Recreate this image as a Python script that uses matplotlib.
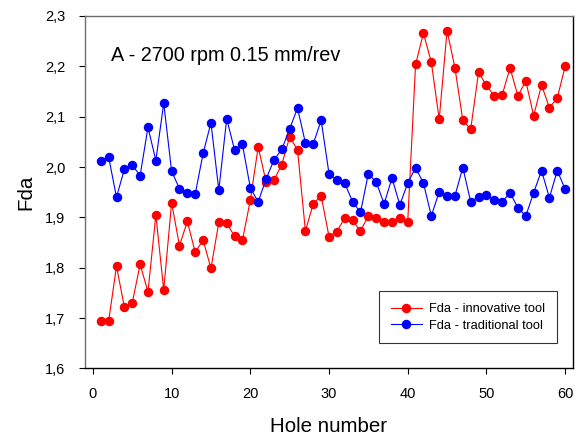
import matplotlib.pyplot as plt
import numpy as np

plt.rcParams['font.family'] = ['Liberation Sans', 'DejaVu Sans']

# hole index and measured Fda for both tools
holes = np.arange(1, 61)
fda_innovative = [
    1.694, 1.694, 1.803, 1.722, 1.730, 1.807, 1.752, 1.905, 1.756, 1.929,
    1.844, 1.892, 1.831, 1.855, 1.799, 1.890, 1.888, 1.863, 1.855, 1.934,
    2.040, 1.971, 1.974, 2.005, 2.060, 2.034, 1.873, 1.927, 1.943, 1.862,
    1.872, 1.899, 1.894, 1.873, 1.903, 1.899, 1.891, 1.891, 1.899, 1.891,
    2.204, 2.266, 2.208, 2.095, 2.271, 2.197, 2.093, 2.075, 2.188, 2.162,
    2.141, 2.143, 2.197, 2.141, 2.171, 2.102, 2.163, 2.118, 2.137, 2.200,
]
fda_traditional = [
    2.013, 2.020, 1.940, 1.996, 2.004, 1.983, 2.079, 2.013, 2.127, 1.992,
    1.957, 1.949, 1.946, 2.027, 2.088, 1.954, 2.096, 2.034, 2.045, 1.959,
    1.931, 1.976, 2.014, 2.035, 2.076, 2.117, 2.048, 2.046, 2.093, 1.987,
    1.974, 1.968, 1.931, 1.910, 1.987, 1.970, 1.927, 1.978, 1.925, 1.968,
    1.999, 1.968, 1.903, 1.951, 1.943, 1.943, 1.999, 1.931, 1.941, 1.945,
    1.935, 1.931, 1.949, 1.919, 1.903, 1.949, 1.993, 1.939, 1.993, 1.956,
]

y_ticks = [1.6, 1.7, 1.8, 1.9, 2.0, 2.1, 2.2, 2.3]
y_tick_labels = ['1,6', '1,7', '1,8', '1,9', '2,0', '2,1', '2,2', '2,3']
x_ticks = [0, 10, 20, 30, 40, 50, 60]

fig = plt.figure(figsize=(5.76, 4.38), dpi=100)
ax = fig.add_axes([0.1476, 0.1587, 0.8472, 0.8048])

ax.plot(holes, fda_innovative, color='#ff0000', marker='o', markersize=5.8,
        linewidth=0.8, label='Fda - innovative tool')
ax.plot(holes, fda_traditional, color='#0000ff', marker='o', markersize=5.8,
        linewidth=0.8, label='Fda - traditional tool')

ax.set_xlim(-1, 61)
ax.set_ylim(1.6, 2.3)
ax.set_xticks(x_ticks)
ax.set_yticks(y_ticks)
ax.set_yticklabels(y_tick_labels)
ax.tick_params(axis='both', direction='out', labelsize=10.5, length=4, width=0.8)
ax.tick_params(axis='x', pad=9)
ax.tick_params(axis='y', pad=10)

for side in ['left', 'top']:
    ax.spines[side].set_color('#6e6e6e')
    ax.spines[side].set_linewidth(1.0)
for side in ['right', 'bottom']:
    ax.spines[side].set_color('black')
    ax.spines[side].set_linewidth(1.0)

ax.set_xlabel('Hole number', fontsize=14.8, labelpad=12)
ax.set_ylabel('Fda', fontsize=14.8, labelpad=7)

ax.text(0.053, 0.889, 'A - 2700 rpm 0.15 mm/rev', transform=ax.transAxes,
        fontsize=14.3, va='center', ha='left')

leg = ax.legend(loc='lower right', bbox_to_anchor=(0.967, 0.0715), fontsize=9.3,
                frameon=True, fancybox=False, borderpad=0.9, borderaxespad=0,
                handlelength=2.4, labelspacing=0.35, handletextpad=0.6)
leg.get_frame().set_edgecolor('black')
leg.get_frame().set_linewidth(0.8)

fig.savefig('out.png', dpi=100)
